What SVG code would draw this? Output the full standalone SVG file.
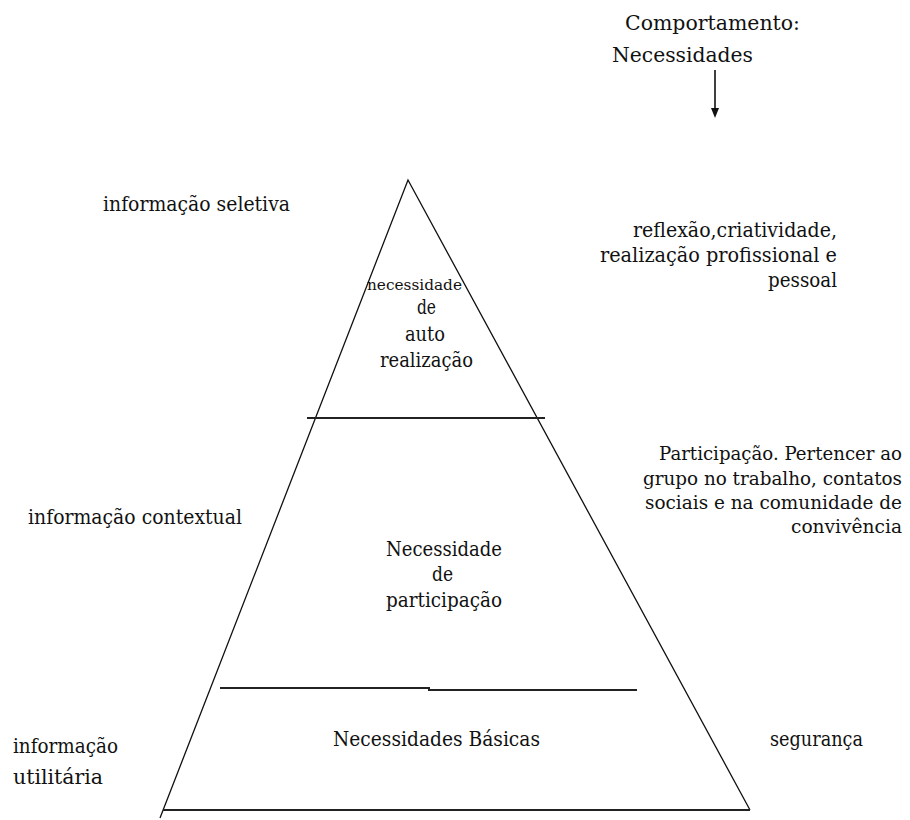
<svg xmlns="http://www.w3.org/2000/svg" width="910" height="820" viewBox="0 0 910 820">
<defs>
<style>
text{font-family:"DejaVu Serif","Liberation Serif",serif;font-size:20px;fill:#111;}
.sm{font-size:14px;}
.r18{font-size:18px;}
.ln{stroke:#111;stroke-width:1.3;fill:none;}
.hl{stroke:#222;stroke-width:2;fill:none;}
</style>
</defs>
<rect width="910" height="820" fill="#fff"/>

<g id="pyramid">
<path class="ln" d="M160,818 L408,180 L750,810"/>
<line class="hl" x1="307" y1="418" x2="545" y2="418"/>
<path class="hl" d="M220,688 L429,688 L429,690 L637,690"/>
<line class="hl" x1="163" y1="810" x2="750" y2="810"/>
</g>

<g id="header">
<text x="625" y="30" textLength="175" lengthAdjust="spacingAndGlyphs">Comportamento:</text>
<text x="612" y="62" textLength="141" lengthAdjust="spacingAndGlyphs">Necessidades</text>
</g>

<g id="connectors">
<line x1="715" y1="70" x2="715" y2="112" stroke="#111" stroke-width="1.6"/>
<path d="M711,108 L719,108 L715,118 Z" fill="#111"/>
</g>

<g id="level-top">
<text class="sm" x="367" y="290" textLength="95" lengthAdjust="spacingAndGlyphs">necessidade</text>
<text x="417" y="314" textLength="19" lengthAdjust="spacingAndGlyphs">de</text>
<text x="405" y="341" textLength="40" lengthAdjust="spacingAndGlyphs">auto</text>
<text x="380" y="367" textLength="93" lengthAdjust="spacingAndGlyphs">realização</text>
</g>

<g id="level-mid">
<text x="386" y="556" textLength="116" lengthAdjust="spacingAndGlyphs">Necessidade</text>
<text x="432" y="581" textLength="21" lengthAdjust="spacingAndGlyphs">de</text>
<text x="386" y="607" textLength="116" lengthAdjust="spacingAndGlyphs">participação</text>
</g>

<g id="level-base">
<text x="333" y="746" textLength="207" lengthAdjust="spacingAndGlyphs">Necessidades Básicas</text>
</g>

<g id="left-labels">
<text x="103" y="211" textLength="187" lengthAdjust="spacingAndGlyphs">informação seletiva</text>
<text x="28" y="524" textLength="214" lengthAdjust="spacingAndGlyphs">informação contextual</text>
<text x="13" y="753" textLength="105" lengthAdjust="spacingAndGlyphs">informação</text>
<text x="13" y="784" textLength="90" lengthAdjust="spacingAndGlyphs">utilitária</text>
</g>

<g id="right-labels">
<text x="633" y="237" textLength="204" lengthAdjust="spacingAndGlyphs">reflexão,criatividade,</text>
<text x="600" y="262" textLength="237" lengthAdjust="spacingAndGlyphs">realização  profissional e</text>
<text x="768" y="287" textLength="69" lengthAdjust="spacingAndGlyphs">pessoal</text>
<text class="r18" x="659" y="460" textLength="243" lengthAdjust="spacingAndGlyphs">Participação. Pertencer ao</text>
<text class="r18" x="643" y="485" textLength="259" lengthAdjust="spacingAndGlyphs">grupo no trabalho, contatos</text>
<text class="r18" x="645" y="509" textLength="257" lengthAdjust="spacingAndGlyphs">sociais e na comunidade de</text>
<text class="r18" x="791" y="533" textLength="111" lengthAdjust="spacingAndGlyphs">convivência</text>
<text x="770" y="746" textLength="93" lengthAdjust="spacingAndGlyphs">segurança</text>
</g>
</svg>
